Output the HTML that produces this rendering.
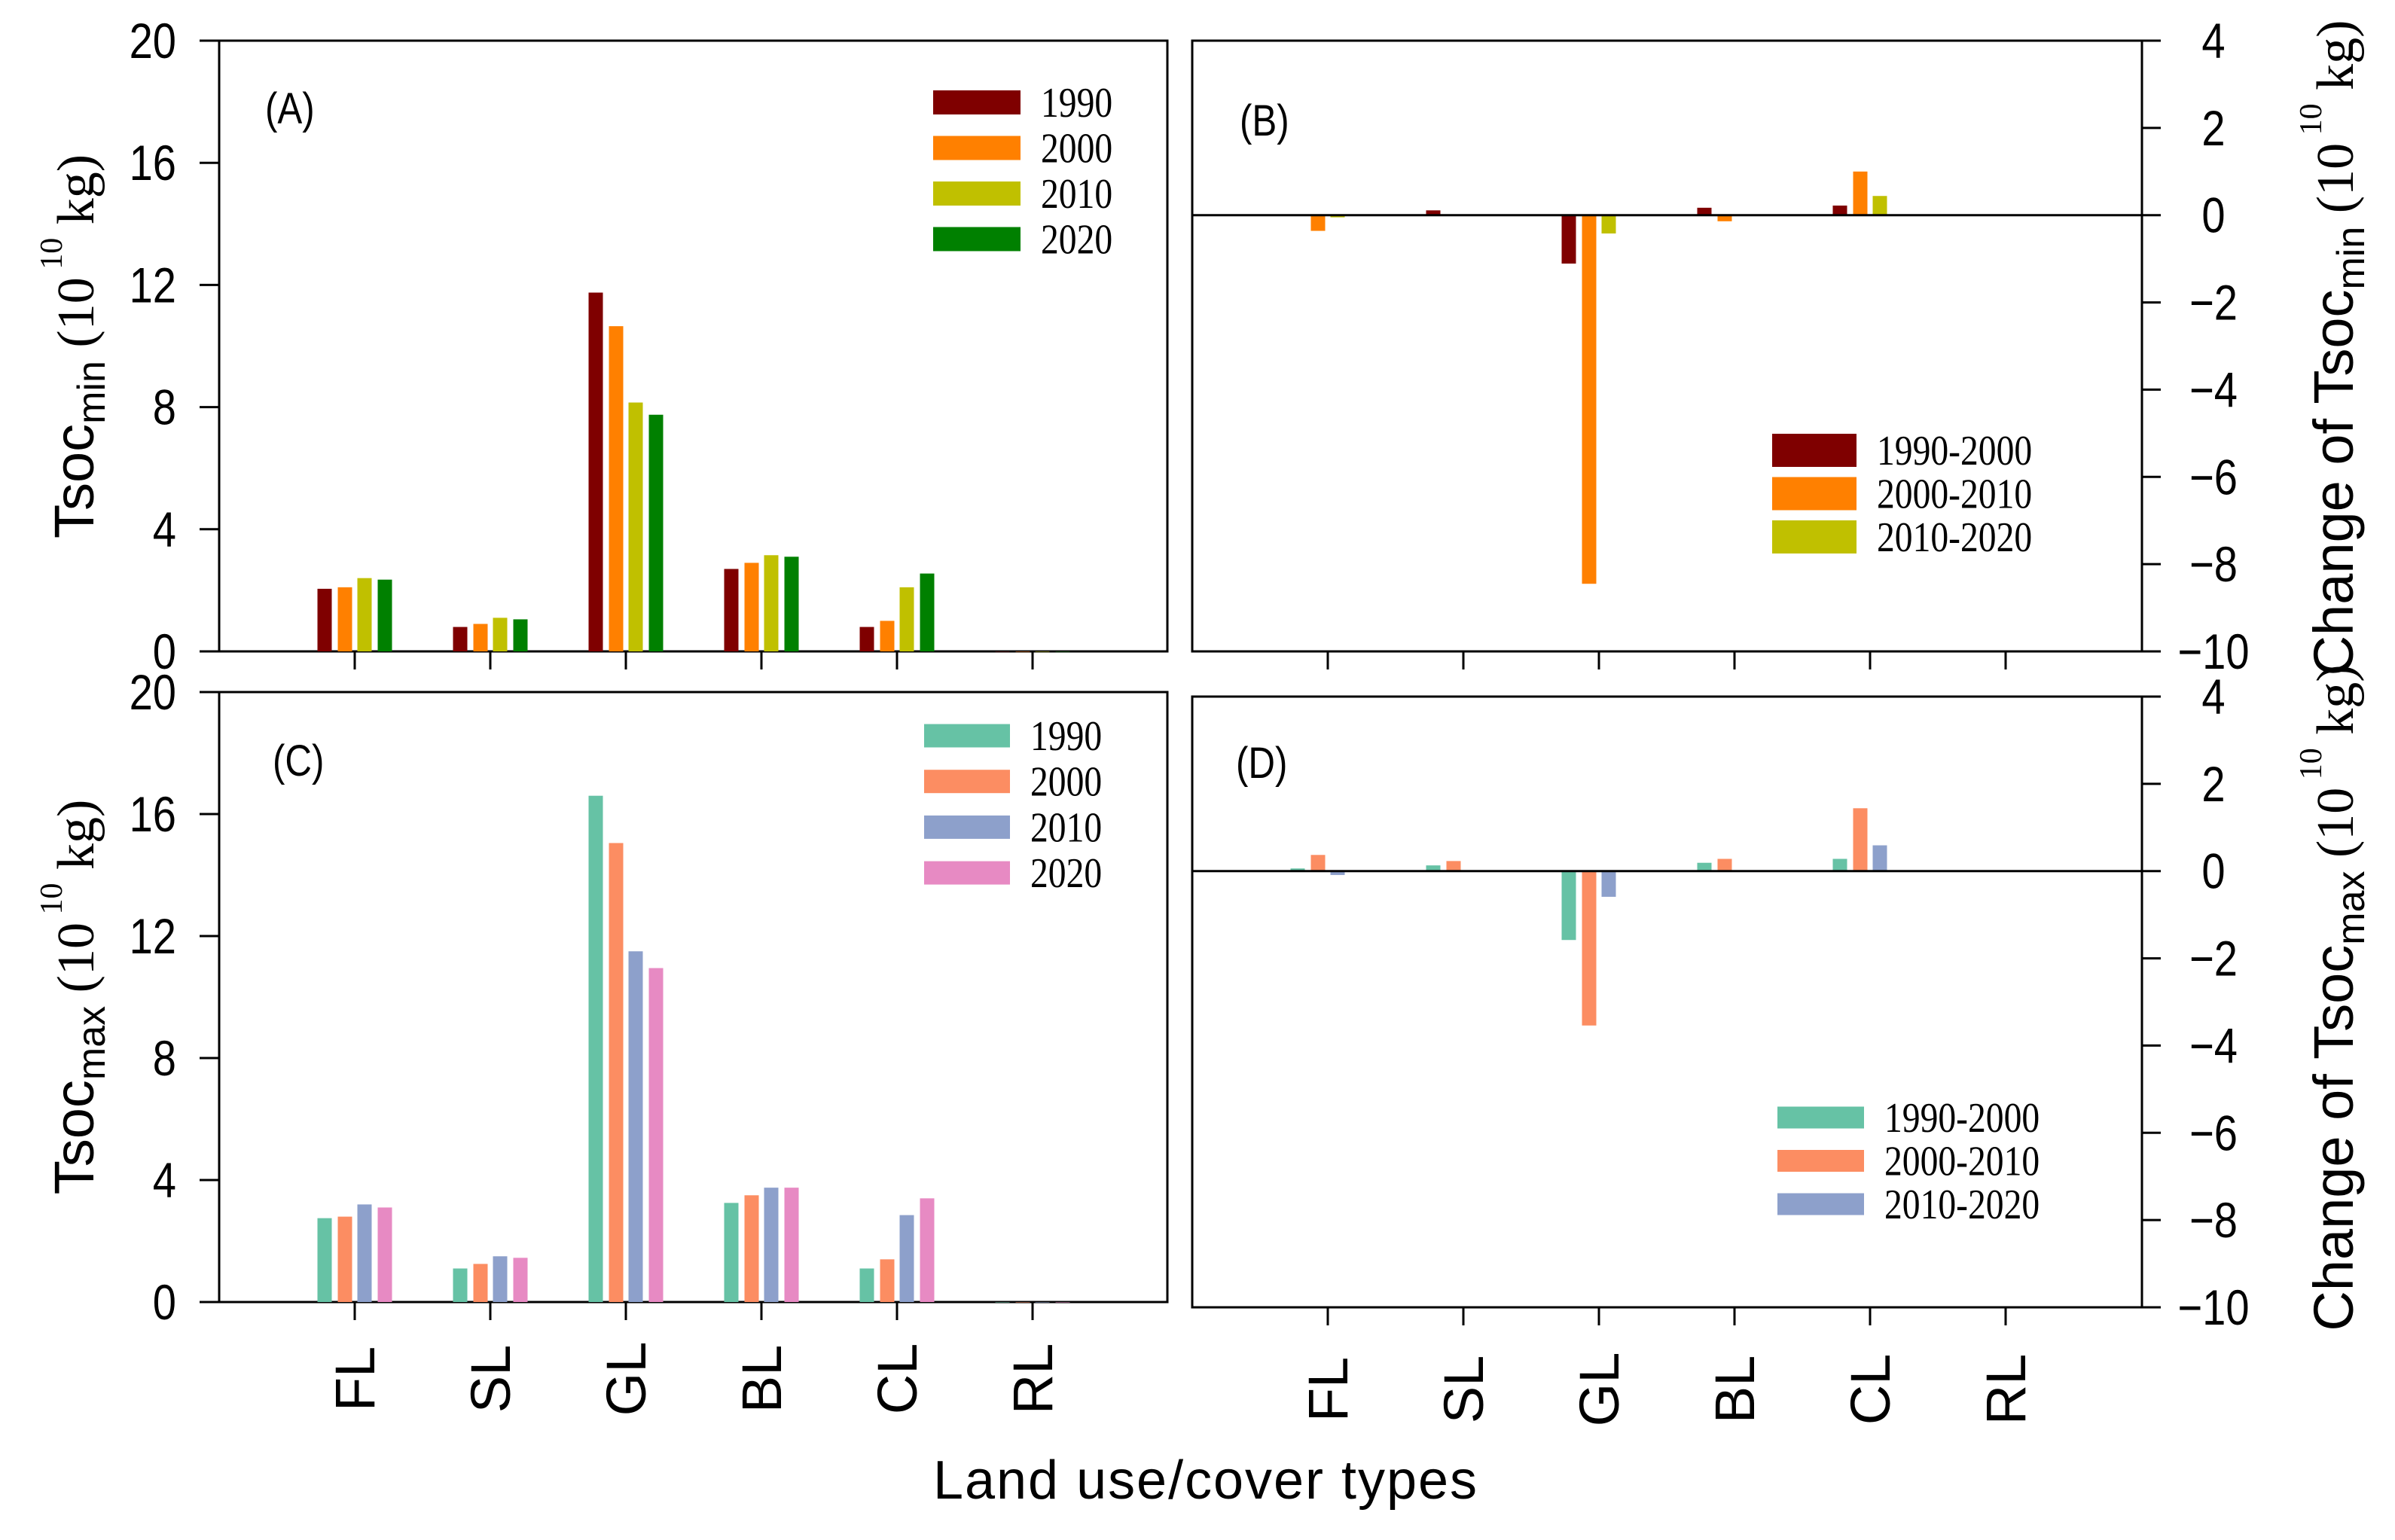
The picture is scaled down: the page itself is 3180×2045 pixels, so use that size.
<!DOCTYPE html>
<html><head><meta charset="utf-8"><style>
html,body{margin:0;padding:0;background:#fff;}
svg{display:block;}
text{font-family:"Liberation Sans",sans-serif;fill:#000;}
.ser{font-family:"Liberation Serif",serif;}
</style></head><body>
<svg id="chart" width="3180" height="2045" viewBox="0 0 3180 2045" xmlns="http://www.w3.org/2000/svg"></svg>
<script>
const categories = ["FL","SL","GL","BL","CL","RL"];
const yearsLabels = ["1990","2000","2010","2020"];
const changeLabels = ["1990-2000","2000-2010","2010-2020"];
const minColors = ["#7f0000","#ff8000","#c0c000","#008000"];
const maxColors = ["#66c2a5","#fc8d62","#8da0cb","#e78ac3"];
// Panel A: Tsoc_min per year
const a1990 = [2.05,0.8,11.75,2.7,0.8,0];
const a2000 = [2.1,0.9,10.65,2.9,1.0,0];
const a2010 = [2.4,1.1,8.15,3.15,2.1,0];
const a2020 = [2.35,1.05,7.75,3.1,2.55,0];
// Panel C: Tsoc_max per year
const c1990 = [2.75,1.1,16.6,3.25,1.1,0];
const c2000 = [2.8,1.25,15.05,3.5,1.4,0];
const c2010 = [3.2,1.5,11.5,3.75,2.85,0];
const c2020 = [3.1,1.45,10.95,3.75,3.4,0];
// Panel B: change of Tsoc_min
const b9000 = [0.02,0.11,-1.11,0.17,0.22,0];
const b0010 = [-0.36,0.01,-8.45,-0.14,1.0,0];
const b1020 = [-0.05,0,-0.42,0,0.44,0];
// Panel D: change of Tsoc_max
const d9000 = [0.06,0.13,-1.58,0.19,0.28,0];
const d0010 = [0.37,0.23,-3.54,0.28,1.44,0];
const d1020 = [-0.09,-0.02,-0.59,0,0.59,0];
const leftTicks = [0,4,8,12,16,20];
const rightTicks = [-10,-8,-6,-4,-2,0,2,4];

const NS="http://www.w3.org/2000/svg";
const svg=document.getElementById('chart');
function mk(tag,attrs,parent){const e=document.createElementNS(NS,tag);for(const k in attrs)e.setAttribute(k,attrs[k]);(parent||svg).appendChild(e);return e;}

function panel(opt){
  const g=mk('g',{});
  
  
  const L=opt.L,R=opt.R,T=opt.T,B=opt.B;
  const y=v=>B-(v-opt.min)/(opt.max-opt.min)*(B-T);
  const tick0=L+180, step=180;
  const x=i=>tick0+i*step;
  const frame=mk('rect',{x:L,y:T,width:R-L,height:B-T,fill:'none',stroke:'#000','stroke-width':3},g);
  
  
  opt.ticks.forEach(t=>{
    const yy=y(t);
    if(opt.right){
      mk('line',{x1:R,x2:R+25,y1:yy,y2:yy,stroke:'#000','stroke-width':3},g);
      const tx=mk('text',{transform:`translate(${R+95},${yy+23}) scale(0.85,1)`,'font-size':66,'text-anchor':'middle'},g);
      tx.textContent=t<0?'\u2212'+Math.abs(t):String(t);
      
      
    }else{
      mk('line',{x1:L-26,x2:L,y1:yy,y2:yy,stroke:'#000','stroke-width':3},g);
      const tx=mk('text',{transform:`translate(234,${yy+23}) scale(0.85,1)`,'font-size':66,'text-anchor':'end'},g);
      tx.textContent=String(t);
      
      
    }
  });
  categories.forEach((c,i)=>{
    mk('line',{x1:x(i),x2:x(i),y1:B,y2:B+24,stroke:'#000','stroke-width':3},g);
    if(opt.catLabels){
      const tx=mk('text',{transform:`translate(${x(i)+26},${opt.catY}) rotate(-90)`,'font-size':74,'text-anchor':'middle'},g);
      tx.textContent=c;
      
      
    }
  });
  const offs=[-40,-13,13,40];
  opt.series.forEach((s,si)=>{
    s.forEach((v,i)=>{
      const y0=y(0),y1=y(v);
      const r=mk('rect',{x:x(i)+offs[si]-9.5,y:Math.min(y0,y1),width:19,height:Math.max(Math.abs(y1-y0),0.5),fill:opt.colors[si]},g);
      
      
    });
  });
  if(opt.zeroLine){mk('line',{x1:L,x2:R,y1:y(0),y2:y(0),stroke:'#000','stroke-width':3},g);}
  const pl=mk('text',{transform:`translate(${opt.plX},${opt.plY}) scale(0.85,1)`,'font-size':58},g);
  pl.textContent=opt.tag;
  
  
  opt.labels.forEach((lab,i)=>{
    const ly=opt.legY+i*opt.legStep;
    const sw=mk('rect',{x:opt.legX,y:ly-opt.legH/2,width:opt.legW,height:opt.legH,fill:opt.colors[i]},g);
    
    
    const t=mk('text',{transform:`translate(${opt.legX+opt.legW+27},${ly+19}) scale(0.85,1)`,'font-size':56,class:'ser'},g);
    t.textContent=lab;
    
    
  });
}

panel({name:'panel-a',tag:'(A)',L:291,R:1550,T:54,B:865,min:0,max:20,ticks:leftTicks,
  series:[a1990,a2000,a2010,a2020],colors:minColors,labels:yearsLabels,
  plX:352,plY:164,legX:1239,legY:136,legStep:60.5,legW:116,legH:32});
panel({name:'panel-c',tag:'(C)',L:291,R:1550,T:919,B:1729,min:0,max:20,ticks:leftTicks,
  series:[c1990,c2000,c2010,c2020],colors:maxColors,labels:yearsLabels,catLabels:true,catY:1831,
  plX:362,plY:1030,legX:1227,legY:977,legStep:60.7,legW:114,legH:31});
panel({name:'panel-b',tag:'(B)',L:1583,R:2844,T:54,B:865,min:-10,max:4,ticks:rightTicks,right:true,zeroLine:true,
  series:[b9000,b0010,b1020],colors:minColors,labels:changeLabels,
  plX:1646,plY:180,legX:2353,legY:598,legStep:57.5,legW:112,legH:44});
panel({name:'panel-d',tag:'(D)',L:1583,R:2844,T:925,B:1736,min:-10,max:4,ticks:rightTicks,right:true,zeroLine:true,
  series:[d9000,d0010,d1020],colors:maxColors,labels:changeLabels,catLabels:true,catY:1845,
  plX:1641,plY:1033,legX:2360,legY:1484,legStep:57.5,legW:115,legH:29});

function axisTitle(name,cx,cy,main,sub){
  const t=mk('text',{transform:`translate(${cx},${cy}) rotate(-90)`,'text-anchor':'middle','font-size':74});
  
  
  t.innerHTML=`${main}<tspan font-size="52" dy="15">${sub}</tspan><tspan dy="-15" font-size="70" style="font-family:'Liberation Serif',serif"> (10</tspan><tspan font-size="42" dy="-42" style="font-family:'Liberation Serif',serif"> 10</tspan><tspan font-size="70" dy="42" style="font-family:'Liberation Serif',serif"> kg)</tspan>`;
}
axisTitle('y-axis-title-a',124,460,'Tsoc','min');
axisTitle('y-axis-title-c',124,1324,'Tsoc','max');
axisTitle('y-axis-title-b',3124,462,'Change of Tsoc','min');
axisTitle('y-axis-title-d',3124,1325,'Change of Tsoc','max');

const xt=mk('text',{x:1600,y:1990,'font-size':72,'text-anchor':'middle',textLength:722});
xt.textContent='Land use/cover types';


</script>
</body></html>
